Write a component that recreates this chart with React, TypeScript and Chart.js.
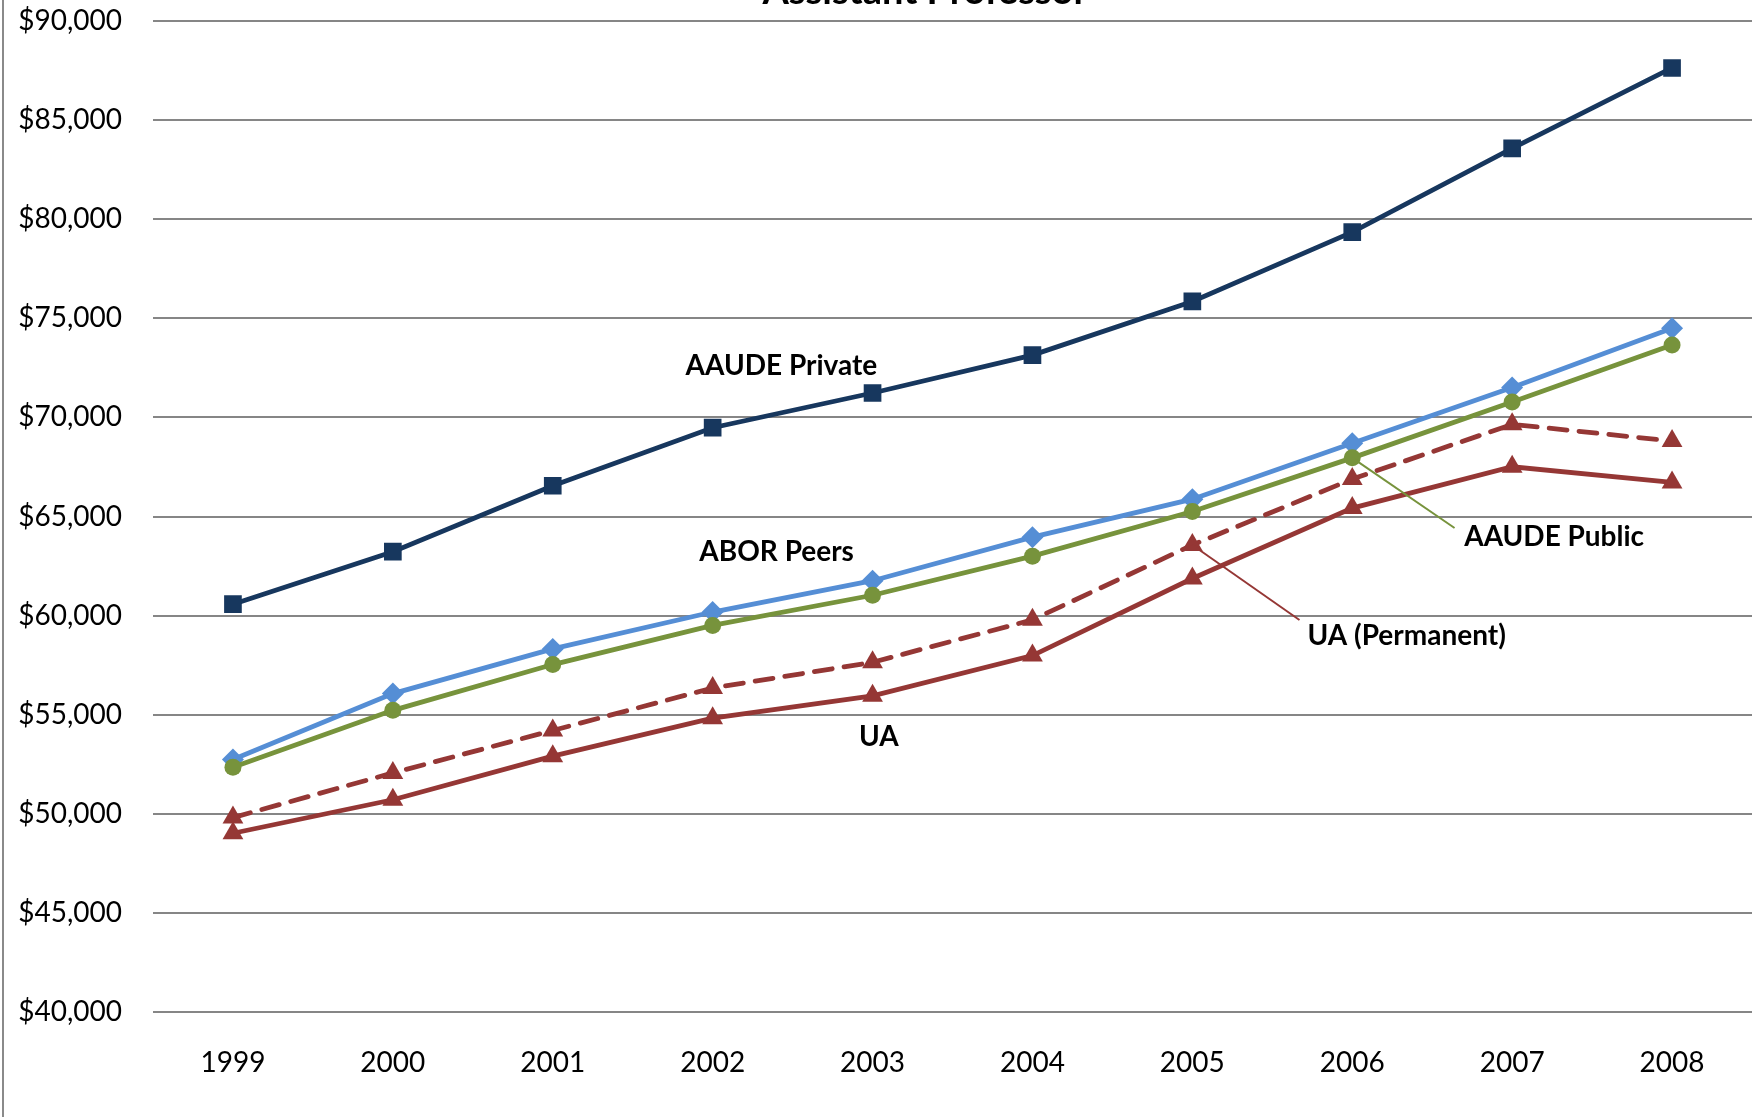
import React, { useEffect, useRef } from "react";
import { Chart, registerables } from "chart.js";

Chart.register(...registerables);

const years = ["1999", "2000", "2001", "2002", "2003", "2004", "2005", "2006", "2007", "2008"];
const aaudePrivate = [60575, 63224, 66550, 69480, 71230, 73145, 75850, 79350, 83570, 87630];
const aborPeers = [52740, 56065, 58320, 60180, 61760, 63957, 65874, 68692, 71511, 74498];
const aaudePublic = [52345, 55220, 57530, 59504, 61026, 62999, 65254, 67959, 70778, 73653];
const uaPermanent = [49808, 52063, 54205, 56347, 57644, 59786, 63563, 66888, 69650, 68805];
const ua = [49019, 50710, 52909, 54825, 55953, 57982, 61871, 65423, 67508, 66719];

const yMin = 40000;
const yMax = 90000;
const yStep = 5000;

const chartTitle = "Assistant Professor";

// Series labels placed in data space: [text, category index, value, align]
const seriesLabels: [string, number, number, CanvasTextAlign][] = [
  ["AAUDE Private", 3.43, 72590, "center"],
  ["ABOR Peers", 3.4, 63210, "center"],
  ["UA", 4.04, 53875, "center"],
  ["AAUDE Public", 7.7, 63966, "left"],
  ["UA (Permanent)", 6.72, 58970, "left"],
];

// Leader lines: [from index, from value, to index, to value, colour]
const leaderLines: [number, number, number, number, string][] = [
  [7, 67959, 7.64, 64420, "#77933C"],
  [6, 63563, 6.67, 59777, "#953735"],
];

const FONT = "Lato, 'Open Sans', sans-serif";

export default function App() {
  const ref = useRef<HTMLCanvasElement | null>(null);

  useEffect(() => {
    const canvas = ref.current;
    if (!canvas) return;

    const overlay = {
      id: "overlay",
      afterDraw(chart: any) {
        const ctx = chart.ctx as CanvasRenderingContext2D;
        const xs = chart.scales.x;
        const ys = chart.scales.y;
        const px = (i: number) => {
          const a = xs.getPixelForValue(0);
          const b = xs.getPixelForValue(1);
          return a + (b - a) * i;
        };
        ctx.save();
        // left border
        ctx.fillStyle = "#8a8a8a";
        ctx.fillRect(2, 0, 2, chart.height);
        // title (cut at top)
        ctx.fillStyle = "#000";
        ctx.font = `bold 38px ${FONT}`;
        ctx.textAlign = "center";
        ctx.textBaseline = "alphabetic";
        ctx.fillText(chartTitle, 925, 4);
        // leader lines
        ctx.lineWidth = 2;
        for (const [i0, v0, i1, v1, c] of leaderLines) {
          ctx.strokeStyle = c;
          ctx.beginPath();
          ctx.moveTo(px(i0), ys.getPixelForValue(v0));
          ctx.lineTo(px(i1), ys.getPixelForValue(v1));
          ctx.stroke();
        }
        // labels
        ctx.font = `bold 28px ${FONT}`;
        ctx.textBaseline = "middle";
        ctx.fillStyle = "#000";
        for (const [t, i, v, al] of seriesLabels) {
          ctx.textAlign = al;
          ctx.fillText(t, px(i), ys.getPixelForValue(v));
        }
        ctx.restore();
      },
    };

    const red = "#953735";
    const chart = new Chart(canvas, {
      type: "line",
      data: {
        labels: years,
        datasets: [
          {
            label: "UA",
            data: ua,
            borderColor: red,
            backgroundColor: red,
            borderWidth: 4.8,
            pointStyle: "triangle",
            pointRadius: 12,
            pointBorderWidth: 0,
          },
          {
            label: "UA (Permanent)",
            data: uaPermanent,
            borderColor: red,
            backgroundColor: red,
            borderWidth: 4.8,
            borderDash: [18, 12],
            borderCapStyle: "round",
            pointStyle: "triangle",
            pointRadius: 12,
            pointBorderWidth: 0,
          },
          {
            label: "AAUDE Public",
            data: aaudePublic,
            borderColor: "#77933C",
            backgroundColor: "#77933C",
            borderWidth: 4.8,
            pointStyle: "circle",
            pointRadius: 8.5,
            pointBorderWidth: 0,
          },
          {
            label: "ABOR Peers",
            data: aborPeers,
            borderColor: "#558ED5",
            backgroundColor: "#558ED5",
            borderWidth: 4.8,
            pointStyle: "rectRot",
            pointRadius: 11,
            pointBorderWidth: 0,
          },
          {
            label: "AAUDE Private",
            data: aaudePrivate,
            borderColor: "#17375E",
            backgroundColor: "#17375E",
            borderWidth: 4.8,
            pointStyle: "rect",
            pointRadius: 12.5,
            pointBorderWidth: 0,
          },
        ],
      },
      options: {
        responsive: false,
        animation: false,
        devicePixelRatio: 1,
        layout: { autoPadding: false, padding: { top: 21, right: 0, left: 0, bottom: 0 } },
        plugins: {
          legend: { display: false },
          title: { display: false },
          tooltip: { enabled: false },
        },
        elements: { line: { tension: 0 } },
        scales: {
          x: {
            type: "category",
            offset: true,
            grid: { display: false, drawTicks: false },
            border: { display: false },
            ticks: {
              color: "#000",
              font: { family: FONT, size: 28 },
              padding: 34,
              maxRotation: 0,
            },
            afterFit: (s: any) => {
              s.height = 105;
              s.paddingLeft = 0;
              s.paddingRight = 0;
            },
          },
          y: {
            min: yMin,
            max: yMax,
            grid: { color: "#868686", lineWidth: 2, drawTicks: false },
            border: { display: false },
            ticks: {
              stepSize: yStep,
              color: "#000",
              font: { family: FONT, size: 28 },
              padding: 31,
              callback: (v: any) => "$" + Number(v).toLocaleString("en-US"),
            },
            afterFit: (s: any) => {
              s.width = 153;
              s.paddingTop = 0;
              s.paddingBottom = 0;
            },
          },
        },
      },
      plugins: [overlay],
    });

    return () => chart.destroy();
  }, []);

  return (
    <div style={{ position: "absolute", left: 0, top: 0, width: 1752, height: 1117, background: "#fff" }}>
      <canvas ref={ref} width={1752} height={1117} style={{ width: 1752, height: 1117, display: "block" }} />
    </div>
  );
}
